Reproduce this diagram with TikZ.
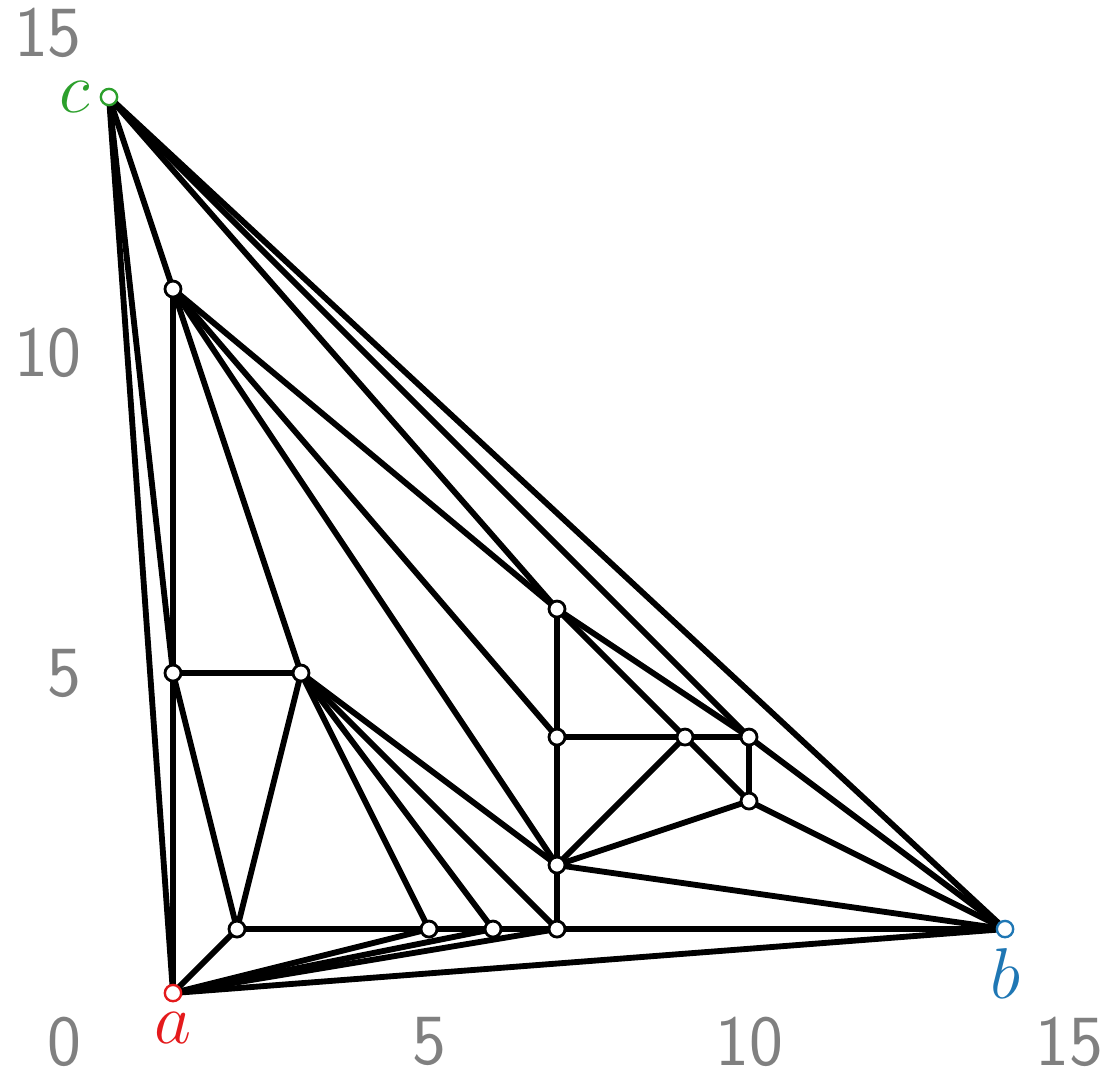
\documentclass[tikz,border=0pt]{standalone}
\usepackage{fix-cm}
\usetikzlibrary{positioning}
\pgfdeclarelayer{background}
\pgfsetlayers{background,main}
\definecolor{TriRed}{RGB}{228,26,28}
\definecolor{TriBlue}{RGB}{31,119,180}
\definecolor{TriGreen}{RGB}{44,160,44}
\definecolor{TriGray}{RGB}{128,128,128}
\tikzset{
  tri/vertex/.style={
    circle,
    draw=black,
    line width=1.25pt,
    fill=white,
    inner sep=0pt,
    minimum size=0.25cm
  },
  tri/corner/.style={
    circle,
    draw=#1,
    line width=1.05pt,
    fill=white,
    inner sep=0pt,
    minimum size=0.255cm
  },
  tri/edge/.style={line width=2.6pt, draw=black},
  tri/name/.style={font=\fontsize{32}{36}\selectfont, inner sep=0pt, label distance=0.15cm},
  tri/tick/.style={font=\fontsize{32}{36}\selectfont\sffamily, text=TriGray, inner sep=0pt}
}

\begin{document}
\begin{tikzpicture}[x=1cm,y=1cm]
  \useasboundingbox (-1.703,-1.1875) rectangle (15.609,15.516);
  % outer triangle
  \node[tri/corner=TriRed, label={[tri/name,text=TriRed]below:$a$}] (a) at (1,0) {};
  \node[tri/corner=TriBlue, label={[tri/name,text=TriBlue]below:$b$}] (b) at (14,1) {};
  \node[tri/corner=TriGreen, label={[tri/name,text=TriGreen]left:$c$}] (c) at (0,14) {};
  % inner points
  \node[tri/vertex] (p1) at (1,11) {};
  \node[tri/vertex] (p2) at (1,5) {};
  \node[tri/vertex] (p3) at (3,5) {};
  \node[tri/vertex] (p4) at (2,1) {};
  \node[tri/vertex] (p5) at (5,1) {};
  \node[tri/vertex] (p6) at (6,1) {};
  \node[tri/vertex] (p7) at (7,1) {};
  \node[tri/vertex] (p8) at (7,2) {};
  \node[tri/vertex] (p9) at (7,4) {};
  \node[tri/vertex] (p10) at (7,6) {};
  \node[tri/vertex] (p11) at (9,4) {};
  \node[tri/vertex] (p12) at (10,4) {};
  \node[tri/vertex] (p13) at (10,3) {};
  % edges
  \begin{pgfonlayer}{background}
    \foreach \u/\v in {c/a, c/p1, c/p2, c/p10, c/p12, c/b,
                       p1/p2, p1/p3, p1/p8, p1/p9, p1/p10,
                       p2/p3, p2/p4, p2/a,
                       p3/p4, p3/p5, p3/p6, p3/p7, p3/p8,
                       p4/a, p4/p5, a/p5, a/p6, a/p7, a/b,
                       p5/p6, p6/p7, p7/b, p7/p8,
                       p8/p9, p9/p10, p8/p11, p8/p13, p8/b,
                       p9/p11, p11/p12, p10/p11, p10/p12,
                       p11/p13, p12/p13, p12/b, p13/b}
      \draw[tri/edge] (\u.center) -- (\v.center);
  \end{pgfonlayer}
  % axis numbers
  \node[tri/tick, anchor=east] (y15) at (-0.42,15) {15};
  \node[tri/tick, anchor=east] (y10) at (-0.42,10) {10};
  \node[tri/tick, anchor=east] (y5) at (-0.42,5) {5};
  \node[tri/tick, anchor=east] (y0) at (-0.42,-0.76) {0};
  \node[tri/tick] (x5) at (5,-0.76) {5};
  \node[tri/tick] (x10) at (10,-0.76) {10};
  \node[tri/tick] (x15) at (15,-0.76) {15};
\end{tikzpicture}
\end{document}
